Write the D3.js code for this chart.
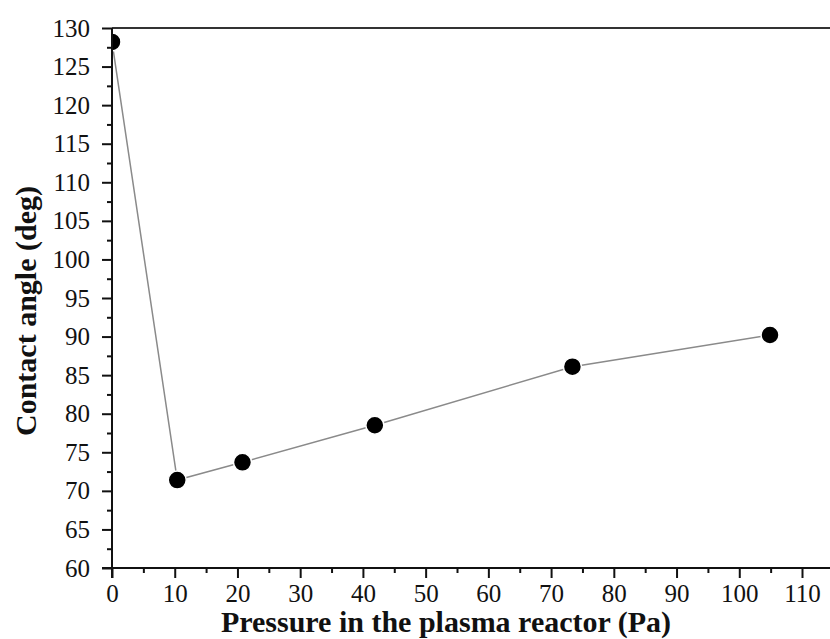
<!DOCTYPE html>
<meta charset="utf-8">
<html>
  <head>
    <script src="https://d3js.org/d3.v7.min.js"></script>
    <style>
      body { margin: 0; background: #fff; }
      text { font-family: "Liberation Serif", "Times New Roman", serif; fill: #111; }
    </style>
  </head>
  <body>
    <svg id="chart" width="830" height="639"></svg>
    <script>
    // pressure (Pa) as placed on the plot, contact angle (deg)
    const pressure = [0, 10.4, 20.8, 41.9, 73.4, 104.9];
    const angle = [128.2, 71.4, 73.7, 78.5, 86.1, 90.2];
    const xTicks = [0, 10, 20, 30, 40, 50, 60, 70, 80, 90, 100, 110];
    const xMinor = [5, 15, 25, 35, 45, 55, 65, 75, 85, 95, 105];
    const yTicks = [60, 65, 70, 75, 80, 85, 90, 95, 100, 105, 110, 115, 120, 125, 130];
    const yMinor = [62.5, 67.5, 72.5, 77.5, 82.5, 87.5, 92.5, 97.5, 102.5, 107.5, 112.5, 117.5, 122.5, 127.5];

    // note: "top" is taken by window.top, so use other names
    var pl = 112, pr = 802, pt = 28, pb = 568;

    var svg = d3.select("#chart");

    var x = d3.scaleLinear().domain([0, 110]).range([pl, pr]);
    var y = d3.scaleLinear().domain([60, 130]).range([pb, pt]);

    // clip for the points (first dot is half hidden by the axis)
    svg.append("clipPath").attr("id", "plotclip")
      .append("rect")
      .attr("x", pl).attr("y", pt)
      .attr("width", 830 - pl).attr("height", pb - pt);

    // top frame line
    svg.append("line")
      .attr("x1", pl).attr("x2", 830)
      .attr("y1", pt).attr("y2", pt)
      .attr("stroke", "#333").attr("stroke-width", 2);

    // line + points
    var pts = pressure.map((p, i) => [p, angle[i]]);
    var g = svg.append("g").attr("clip-path", "url(#plotclip)");

    g.append("path")
      .datum(pts)
      .attr("fill", "none")
      .attr("stroke", "#8a8a8a")
      .attr("stroke-width", 1.5)
      .attr("d", d3.line().x(d => x(d[0])).y(d => y(d[1])));

    g.selectAll("circle")
      .data(pts)
      .enter()
      .append("circle")
      .attr("cx", d => x(d[0]))
      .attr("cy", d => y(d[1]))
      .attr("r", 9)
      .attr("fill", "#000")
      .attr("stroke", "#fff")
      .attr("stroke-width", 1.5);

    // x axis
    var xAxis = svg.append("g")
      .attr("transform", "translate(0," + pb + ")")
      .call(d3.axisBottom(x).tickValues(xTicks).tickSize(10).tickPadding(6).tickSizeOuter(0));
    svg.append("g")
      .attr("transform", "translate(0," + pb + ")")
      .call(d3.axisBottom(x).tickValues(xMinor).tickSize(5).tickFormat(""))
      .select(".domain").remove();
    xAxis.select(".domain").attr("d", "M" + (pl - 10) + ",0H830");

    // y axis
    var yAxis = svg.append("g")
      .attr("transform", "translate(" + pl + ",0)")
      .call(d3.axisLeft(y).tickValues(yTicks).tickSize(10).tickPadding(12).tickSizeOuter(0));
    svg.append("g")
      .attr("transform", "translate(" + pl + ",0)")
      .call(d3.axisLeft(y).tickValues(yMinor).tickSize(5).tickFormat(""))
      .select(".domain").remove();
    yAxis.select(".domain").attr("d", "M0," + pt + "V" + (pb + 10));

    svg.selectAll(".domain, .tick line")
      .attr("stroke", "#111").attr("stroke-width", 2);
    svg.selectAll(".tick text")
      .style("font-family", "Liberation Serif")
      .style("font-size", "25px")
      .attr("fill", "#111");

    // axis titles
    svg.append("text")
      .attr("x", 446)
      .attr("y", 632)
      .attr("text-anchor", "middle")
      .style("font-size", "30px")
      .style("font-weight", "bold")
      .text("Pressure in the plasma reactor (Pa)");

    svg.append("text")
      .attr("transform", "translate(36,311) rotate(-90)")
      .attr("text-anchor", "middle")
      .style("font-size", "30px")
      .style("font-weight", "bold")
      .text("Contact angle (deg)");
    </script>
  </body>
</html>
